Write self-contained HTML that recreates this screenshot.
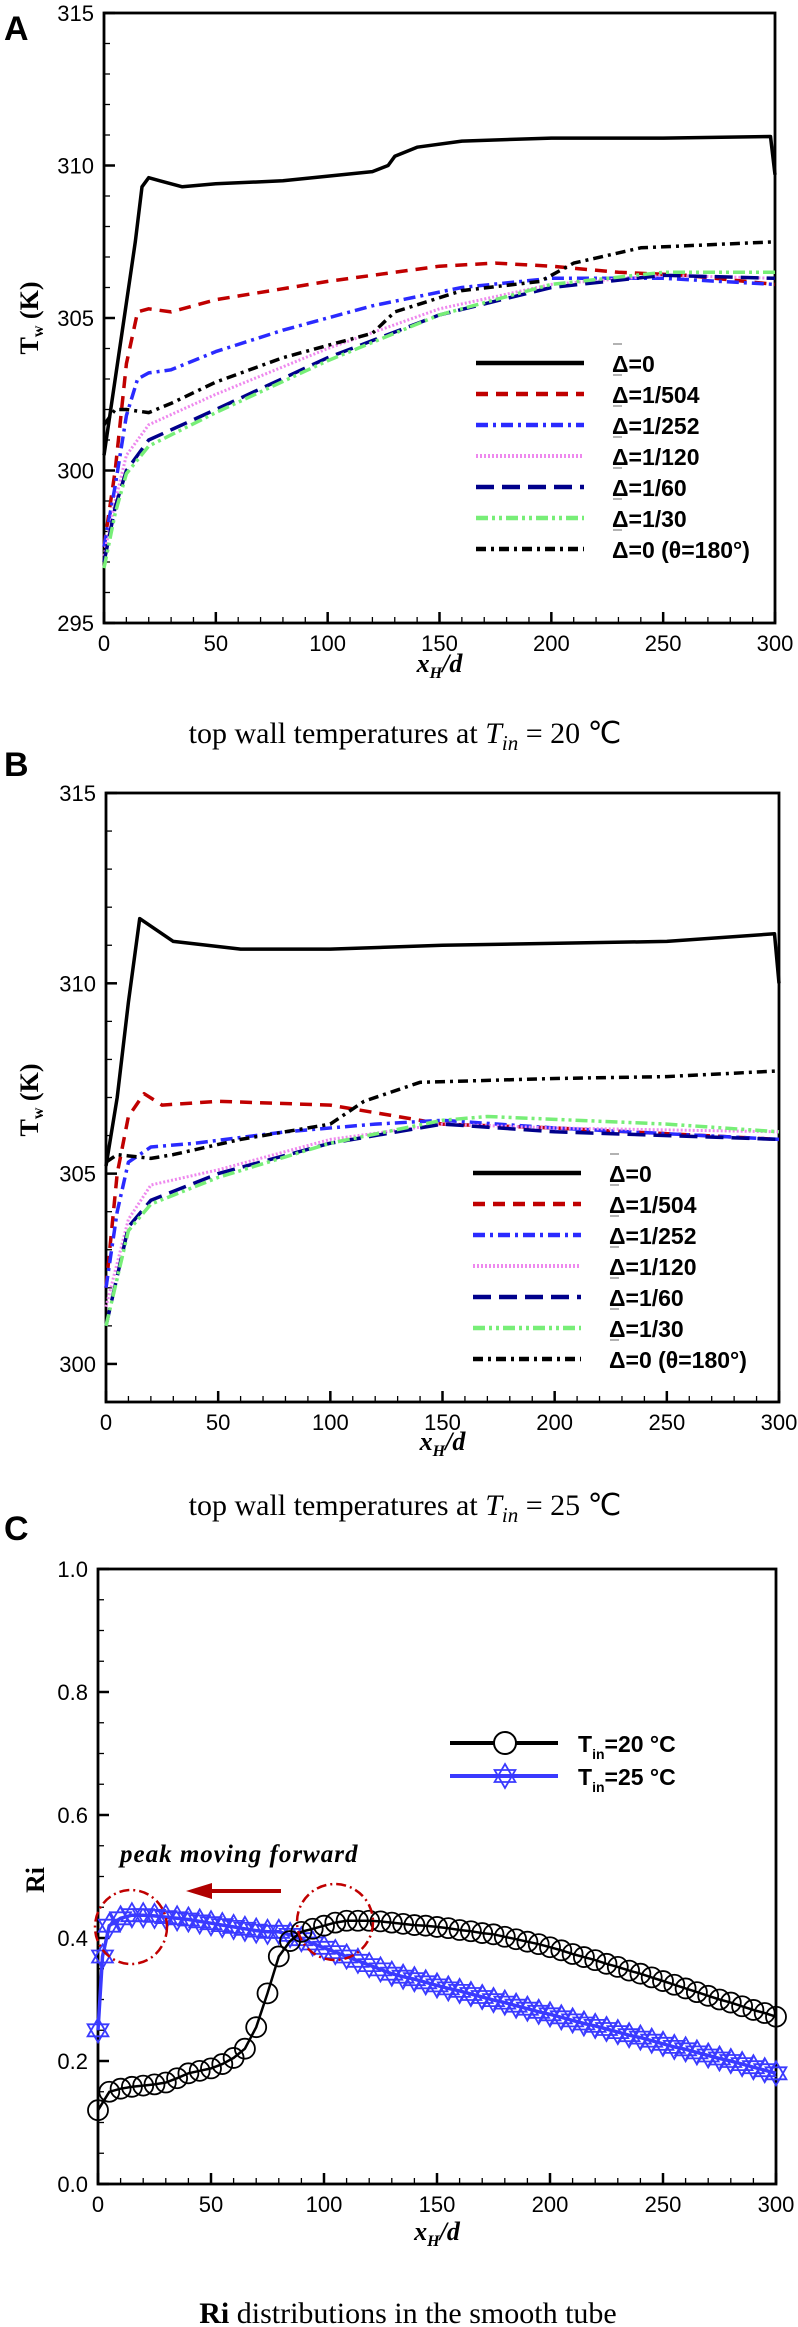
<!DOCTYPE html>
<html><head><meta charset="utf-8"><style>
html,body{margin:0;padding:0;background:#fff;}
svg{display:block;}
</style></head><body>
<svg id="fig" xmlns="http://www.w3.org/2000/svg" width="798" height="2327" viewBox="0 0 798 2327" font-family="'Liberation Sans', sans-serif">
<rect width="798" height="2327" fill="#fff"/>
<text x="4" y="40" font-size="34" font-weight="bold">A</text>
<text x="4" y="776" font-size="34" font-weight="bold">B</text>
<text x="4" y="1540" font-size="34" font-weight="bold">C</text>
<text x="405" y="743" font-size="30" text-anchor="middle" font-family="'Liberation Serif', serif">top wall temperatures at  <tspan font-style="italic">T</tspan><tspan font-style="italic" font-size="21" dy="7">in</tspan><tspan dy="-7"> = 20 ℃</tspan></text>
<text x="405" y="1515" font-size="30" text-anchor="middle" font-family="'Liberation Serif', serif">top wall temperatures at  <tspan font-style="italic">T</tspan><tspan font-style="italic" font-size="21" dy="7">in</tspan><tspan dy="-7"> = 25 ℃</tspan></text>
<text x="408" y="2323" font-size="30" text-anchor="middle" font-family="'Liberation Serif', serif"><tspan font-weight="bold">Ri</tspan>  distributions in the smooth tube</text>
<g id="layer"></g>
</svg>
<script>
const xTicks = [0, 50, 100, 150, 200, 250, 300];
const aYTicks = [295, 300, 305, 310, 315];
const bYTicks = [300, 305, 310, 315];
const cYTicks = [0.0, 0.2, 0.4, 0.6, 0.8, 1.0];
const cYTickLabels = ["0.0", "0.2", "0.4", "0.6", "0.8", "1.0"];
const seriesLabels = ["=0", "=1/504", "=1/252", "=1/120", "=1/60", "=1/30", "=0 (θ=180°)"];

const aX0 = [0, 5, 10, 14, 17, 20, 25, 35, 50, 80, 120, 127, 130, 140, 160, 200, 250, 298, 300];
const aY0 = [300.5, 303, 305.5, 307.5, 309.3, 309.6, 309.5, 309.3, 309.4, 309.5, 309.8, 310, 310.3, 310.6, 310.8, 310.9, 310.9, 310.95, 309.7];
const aX504 = [0, 5, 10, 15, 20, 30, 50, 100, 150, 175, 200, 230, 260, 300];
const aY504 = [297.5, 300, 303.5, 305.2, 305.3, 305.2, 305.6, 306.2, 306.7, 306.8, 306.7, 306.5, 306.4, 306.1];
const aX252 = [0, 5, 10, 15, 20, 30, 50, 80, 120, 160, 200, 250, 300];
const aY252 = [297.5, 299.5, 301.8, 303, 303.2, 303.3, 303.9, 304.6, 305.4, 306, 306.3, 306.3, 306.1];
const aX120 = [0, 5, 10, 20, 50, 100, 150, 200, 250, 300];
const aY120 = [297.2, 299, 300.5, 301.5, 302.5, 304, 305.3, 306.1, 306.4, 306.3];
const aX60 = [0, 5, 10, 20, 50, 100, 150, 200, 250, 300];
const aY60 = [297, 298.8, 300, 301, 302, 303.7, 305.1, 306, 306.4, 306.3];
const aX30 = [0, 5, 10, 20, 50, 100, 150, 200, 250, 300];
const aY30 = [296.8, 298.6, 299.9, 300.8, 301.9, 303.6, 305.1, 306.1, 306.5, 306.5];
const aX180 = [0, 5, 10, 20, 30, 50, 80, 100, 120, 130, 160, 195, 210, 240, 300];
const aY180 = [301.5, 302, 302, 301.9, 302.2, 302.9, 303.7, 304.1, 304.5, 305.2, 305.9, 306.2, 306.8, 307.3, 307.5];

const bX0 = [0, 5, 10, 15, 20, 30, 60, 100, 150, 250, 298, 300];
const bY0 = [305.2, 307, 309.5, 311.7, 311.5, 311.1, 310.9, 310.9, 311, 311.1, 311.3, 310];
const bX504 = [0, 5, 10, 17, 25, 50, 100, 130, 150, 200, 300];
const bY504 = [302, 305, 306.5, 307.1, 306.8, 306.9, 306.8, 306.5, 306.3, 306.2, 305.9];
const bX252 = [0, 5, 10, 20, 40, 80, 120, 150, 200, 300];
const bY252 = [302, 304, 305.3, 305.7, 305.8, 306.1, 306.3, 306.4, 306.2, 305.9];
const bX120 = [0, 10, 20, 50, 100, 150, 200, 300];
const bY120 = [301.5, 303.8, 304.7, 305.1, 305.9, 306.3, 306.2, 306.1];
const bX60 = [0, 10, 20, 50, 100, 150, 200, 300];
const bY60 = [301, 303.6, 304.3, 305, 305.8, 306.3, 306.1, 305.9];
const bX30 = [0, 10, 20, 50, 100, 150, 170, 250, 300];
const bY30 = [301, 303.5, 304.2, 304.9, 305.8, 306.4, 306.5, 306.3, 306.1];
const bX180 = [0, 5, 20, 30, 60, 100, 115, 140, 200, 250, 300];
const bY180 = [305.3, 305.5, 305.4, 305.5, 305.9, 306.3, 306.9, 307.4, 307.5, 307.55, 307.7];

const cX20 = [0,5,10,15,20,25,30,35,40,45,50,55,60,65,70,75,80,85,90,95,100,105,110,115,120,125,130,135,140,145,150,155,160,165,170,175,180,185,190,195,200,205,210,215,220,225,230,235,240,245,250,255,260,265,270,275,280,285,290,295,300];
const cRi20 = [0.12,0.15,0.155,0.158,0.16,0.162,0.165,0.172,0.18,0.184,0.188,0.195,0.205,0.22,0.255,0.31,0.37,0.395,0.41,0.415,0.42,0.425,0.428,0.428,0.428,0.427,0.425,0.423,0.421,0.42,0.418,0.416,0.413,0.411,0.408,0.406,0.402,0.398,0.394,0.39,0.385,0.38,0.374,0.369,0.364,0.358,0.353,0.347,0.342,0.336,0.33,0.324,0.318,0.312,0.306,0.30,0.295,0.289,0.283,0.278,0.272];
const cX25 = [0,2,5,10,15,20,25,30,35,40,45,50,55,60,65,70,75,80,85,90,95,100,105,110,115,120,125,130,135,140,145,150,155,160,165,170,175,180,185,190,195,200,205,210,215,220,225,230,235,240,245,250,255,260,265,270,275,280,285,290,295,300];
const cRi25 = [0.25,0.37,0.42,0.432,0.437,0.437,0.436,0.434,0.432,0.43,0.427,0.424,0.421,0.418,0.415,0.412,0.41,0.41,0.405,0.398,0.391,0.384,0.377,0.37,0.363,0.356,0.349,0.342,0.337,0.333,0.328,0.323,0.318,0.314,0.309,0.304,0.299,0.295,0.29,0.285,0.28,0.276,0.271,0.266,0.261,0.257,0.252,0.247,0.242,0.238,0.233,0.228,0.223,0.219,0.214,0.209,0.204,0.2,0.195,0.19,0.185,0.18];
const cLegend = ["20 °C", "25 °C"];

const NS = "http://www.w3.org/2000/svg";
const layer = document.getElementById('layer');
function mk(tag, attrs, parent) {
  const e = document.createElementNS(NS, tag);
  for (const k in attrs) e.setAttribute(k, attrs[k]);
  (parent || layer).appendChild(e);
  return e;
}
const styles = [
  {c:"#000000", d:"", w:3.5},
  {c:"#c00000", d:"12 8", w:3.5},
  {c:"#2a2aff", d:"12 5 3 5", w:3.5},
  {c:"#ee88ee", d:"2 2", w:3},
  {c:"#00008b", d:"18 8", w:3.5},
  {c:"#77ee77", d:"12 4 3 4 3 4", w:3.5},
  {c:"#000000", d:"10 5 3 5", w:3.5}
];

function axes(P, yTicks, yLabels, yMinor, xTitleY, yTitle) {
  const g = mk('g', {});
  
  
  for (let v = 0; v <= 300; v += 10) {
    const major = v % 50 === 0;
    const t = mk('line', {x1:P.sx(v), x2:P.sx(v), y1:P.b, y2:P.b - (major ? 11 : 6), stroke:"#000", "stroke-width": major ? 2.5 : 1.3}, g);
    
    
  }
  xTicks.forEach(v => {
    const t = mk('text', {x:P.sx(v), y:P.b + 28, "font-size":22, "text-anchor":"middle"}, g);
    t.textContent = v;
    
    
  });
  for (let v = P.y0; v <= P.y1 + 1e-9; v += yMinor) {
    const major = yTicks.some(t => Math.abs(t - v) < 1e-6);
    const t = mk('line', {x1:P.l, x2:P.l + (major ? 11 : 6), y1:P.sy(v), y2:P.sy(v), stroke:"#000", "stroke-width": major ? 2.5 : 1.3}, g);
    
    
  }
  yTicks.forEach((v, i) => {
    const t = mk('text', {x:P.l - 10, y:P.sy(v) + 8, "font-size":22, "text-anchor":"end"}, g);
    t.textContent = yLabels[i];
    
    
  });
  const fr = mk('rect', {x:P.l, y:P.t, width:P.r - P.l, height:P.b - P.t, fill:"none", stroke:"#000", "stroke-width":2.8}, g);
  
  
  const xt = mk('text', {x:(P.l + P.r) / 2, y:xTitleY, "font-size":26, "font-weight":"bold", "font-style":"italic", "text-anchor":"middle", "font-family":"'Liberation Serif', serif"}, g);
  xt.innerHTML = 'x<tspan font-size="16" dy="6">H</tspan><tspan dy="-6">/d</tspan>';
  
  
  const yt = mk('text', {x:0, y:0, "font-size":26, "font-weight":"bold", "text-anchor":"middle", "font-family":"'Liberation Serif', serif", transform:`translate(${yTitle.x},${yTitle.y}) rotate(-90)`}, g);
  yt.innerHTML = yTitle.html;
  
  
}

function linePath(P, xs, ys) {
  return xs.map((x, i) => (i ? 'L' : 'M') + P.sx(x).toFixed(1) + ',' + P.sy(ys[i]).toFixed(1)).join(' ');
}

function tempPanel(P, series, legendTop) {
  series.forEach((s, i) => {
    const st = styles[i];
    const p = mk('path', {d:linePath(P, s[0], s[1]), fill:"none", stroke:st.c, "stroke-width":st.w, "stroke-dasharray":st.d, "stroke-linejoin":"round"});
    
    
  });
  const lg = mk('g', {});
  
  
  seriesLabels.forEach((lab, i) => {
    const y = legendTop + i * 31;
    const st = styles[i];
    const ln = mk('line', {x1:P.lgx, x2:P.lgx + 108, y1:y, y2:y, stroke:st.c, "stroke-width":st.w + 1, "stroke-dasharray":st.d}, lg);
    
    
    const bar = mk('line', {x1:P.lgx + 137, x2:P.lgx + 146, y1:y - 19, y2:y - 19, stroke:"#999", "stroke-width":1.5}, lg);
    
    
    const t = mk('text', {x:P.lgx + 136, y:y + 9, "font-size":23, "font-weight":"bold"}, lg);
    t.textContent = 'Δ' + lab;
    
    
  });
}

const PA = {name:'panel-a', l:104, r:775, t:13, b:623, y0:295, y1:315, lgx:476};
PA.sx = v => PA.l + (v / 300) * (PA.r - PA.l);
PA.sy = v => PA.b - (v - PA.y0) / (PA.y1 - PA.y0) * (PA.b - PA.t);
axes(PA, aYTicks, aYTicks.map(String), 1, 672, {x:38, y:318, html:'T<tspan font-size="16" dy="5">w</tspan><tspan dy="-5"> (K)</tspan>'});
tempPanel(PA, [[aX0,aY0],[aX504,aY504],[aX252,aY252],[aX120,aY120],[aX60,aY60],[aX30,aY30],[aX180,aY180]], 363);

const PB = {name:'panel-b', l:106, r:779, t:793, b:1402, y0:299, y1:315, lgx:473};
PB.sx = v => PB.l + (v / 300) * (PB.r - PB.l);
PB.sy = v => PB.b - (v - PB.y0) / (PB.y1 - PB.y0) * (PB.b - PB.t);
axes(PB, bYTicks, bYTicks.map(String), 1, 1450, {x:38, y:1100, html:'T<tspan font-size="16" dy="5">w</tspan><tspan dy="-5"> (K)</tspan>'});
tempPanel(PB, [[bX0,bY0],[bX504,bY504],[bX252,bY252],[bX120,bY120],[bX60,bY60],[bX30,bY30],[bX180,bY180]], 1173);

const PC = {name:'panel-c', l:98, r:776, t:1569, b:2184, y0:0, y1:1};
PC.sx = v => PC.l + (v / 300) * (PC.r - PC.l);
PC.sy = v => PC.b - (v - PC.y0) / (PC.y1 - PC.y0) * (PC.b - PC.t);
axes(PC, cYTicks, cYTickLabels, 0.05, 2240, {x:44, y:1880, html:'Ri'});

function star(cx, cy, r, parent, color) {
  const pts1 = [], pts2 = [];
  for (let k = 0; k < 3; k++) {
    const a1 = -Math.PI / 2 + k * 2 * Math.PI / 3, a2 = Math.PI / 2 + k * 2 * Math.PI / 3;
    pts1.push((cx + r * Math.cos(a1)).toFixed(1) + ',' + (cy + r * Math.sin(a1)).toFixed(1));
    pts2.push((cx + r * Math.cos(a2)).toFixed(1) + ',' + (cy + r * Math.sin(a2)).toFixed(1));
  }
  const g = mk('g', {fill:"none", stroke:color, "stroke-width":1.8}, parent);
  mk('polygon', {points:pts1.join(' ')}, g);
  mk('polygon', {points:pts2.join(' ')}, g);
  return g;
}

const s25 = mk('g', {});


mk('path', {d:linePath(PC, cX25, cRi25), fill:"none", stroke:"#3a3aff", "stroke-width":3.5}, s25);
cX25.forEach((x, i) => {
  const m = star(PC.sx(x), PC.sy(cRi25[i]), 12, s25, "#3a3aff");
  
  
});
const s20 = mk('g', {});


mk('path', {d:linePath(PC, cX20, cRi20), fill:"none", stroke:"#000", "stroke-width":2.5}, s20);
cX20.forEach((x, i) => {
  const m = mk('circle', {cx:PC.sx(x), cy:PC.sy(cRi20[i]), r:10, fill:"none", stroke:"#000", "stroke-width":1.8}, s20);
  
  
});

const ann = mk('g', {});


const at = mk('text', {x:120, y:1862, "font-size":25, "font-weight":"bold", "font-style":"italic", "font-family":"'Liberation Serif', serif", "letter-spacing":"1"}, ann);
at.textContent = 'peak moving forward';


mk('line', {x1:281, x2:200, y1:1891, y2:1891, stroke:"#b00000", "stroke-width":4}, ann);
mk('polygon', {points:"186,1891 212,1883 212,1899", fill:"#b00000"}, ann);
const e1 = mk('ellipse', {cx:131, cy:1927, rx:36, ry:37, fill:"none", stroke:"#c00000", "stroke-width":2.5, "stroke-dasharray":"10 4 2 4"}, ann);


const e2 = mk('ellipse', {cx:335, cy:1922, rx:38, ry:38, fill:"none", stroke:"#c00000", "stroke-width":2.5, "stroke-dasharray":"10 4 2 4"}, ann);



const lc = mk('g', {});


[1743, 1776].forEach((y, i) => {
  const col = i === 0 ? "#000" : "#3a3aff";
  mk('line', {x1:450, x2:558, y1:y, y2:y, stroke:col, "stroke-width":4}, lc);
  if (i === 0) mk('circle', {cx:505, cy:y, r:11, fill:"#fff", stroke:"#000", "stroke-width":2}, lc);
  else star(505, y, 12, lc, col);
  const t = mk('text', {x:578, y:y + 9, "font-size":23, "font-weight":"bold"}, lc);
  t.innerHTML = 'T<tspan font-size="14" dy="7">in</tspan><tspan dy="-7">=' + cLegend[i] + '</tspan>';
  
  
});
</script>
</body></html>
